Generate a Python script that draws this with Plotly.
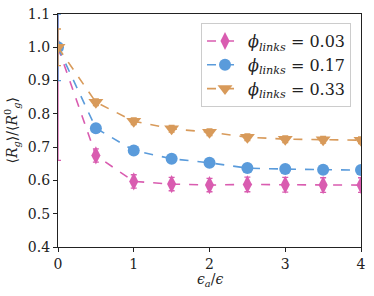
import plotly.graph_objects as go

x_vals = [0, 0.5, 1, 1.5, 2, 2.5, 3, 3.5, 4]

y_003 = [1.0, 0.675, 0.597, 0.589, 0.586, 0.588, 0.587, 0.586, 0.586]
e_003 = [0.34, 0.02, 0.02, 0.02, 0.02, 0.022, 0.022, 0.022, 0.022]

y_017 = [1.0, 0.757, 0.690, 0.665, 0.653, 0.637, 0.634, 0.632, 0.631]
e_017 = [0.10, 0.01, 0.01, 0.01, 0.01, 0.01, 0.01, 0.01, 0.01]

y_033 = [1.0, 0.835, 0.778, 0.755, 0.745, 0.730, 0.724, 0.722, 0.721]
e_033 = [0.055, 0.01, 0.01, 0.01, 0.01, 0.01, 0.01, 0.01, 0.01]

labels = ["0.03", "0.17", "0.33"]
x_ticks = [0, 1, 2, 3, 4]
y_ticks = [0.4, 0.5, 0.6, 0.7, 0.8, 0.9, 1.0, 1.1]

FONT = "'DejaVu Serif', 'Liberation Serif', serif"
series = [
    (y_003, e_003, labels[0], "#d95cb0", "diamond-tall", 13),
    (y_017, e_017, labels[1], "#5a9bdb", "circle", 12),
    (y_033, e_033, labels[2], "#d89a5a", "triangle-down", 13),
]

fig = go.Figure()
for ys, es, lab, col, sym, sz in series:
    fig.add_trace(go.Scatter(
        x=x_vals, y=ys,
        mode="lines+markers",
        name=f"<i>ϕ<sub>links</sub></i> = {lab}",
        line=dict(color=col, width=1.6, dash="dash"),
        marker=dict(color=col, symbol=sym, size=sz, line=dict(width=0)),
        error_y=dict(type="data", array=es, visible=True, color=col, thickness=1.3, width=3),
        cliponaxis=True,
    ))

fig.update_layout(
    width=374, height=296,
    margin=dict(l=58, r=13, t=14, b=49),
    paper_bgcolor="white", plot_bgcolor="white",
    font=dict(family=FONT, size=13, color="#222"),
    showlegend=True,
    legend=dict(
        x=0.472, y=0.961, xanchor="left", yanchor="top",
        bgcolor="white", bordercolor="#cccccc", borderwidth=1,
        font=dict(family=FONT, size=16, color="#222"),
        itemwidth=36, tracegroupgap=0,
    ),
    xaxis=dict(
        range=[0, 4], tickvals=x_ticks, ticktext=[str(t) for t in x_ticks],
        showgrid=False, zeroline=False, automargin=False,
        showline=True, linecolor="#222", linewidth=1.3, mirror=True,
        ticks="outside", ticklen=4, tickcolor="#222",
        tickfont=dict(size=14), ticklabeloverflow="allow",
    ),
    yaxis=dict(
        range=[0.4, 1.1], tickvals=y_ticks, ticktext=[f"{t:.1f}" for t in y_ticks],
        showgrid=False, zeroline=False, automargin=False,
        showline=True, linecolor="#222", linewidth=1.3, mirror=True,
        ticks="outside", ticklen=4, tickcolor="#222",
        tickfont=dict(size=14), ticklabeloverflow="allow",
    ),
    annotations=[
        dict(text="<i>ϵ<sub>a</sub></i>/<i>ϵ</i>", xref="paper", yref="paper",
             x=0.5, y=-0.142, xanchor="center", yanchor="middle",
             showarrow=False, font=dict(size=14)),
        dict(text="⟨<i>R<sub>g</sub></i>⟩/⟨<i>R</i><sup>0</sup><sub><i>g</i></sub>⟩",
             xref="paper", yref="paper", x=-0.152, y=0.5, textangle=-90,
             xanchor="center", yanchor="middle", showarrow=False, font=dict(size=14)),
    ],
)

fig.write_html("out.html", config={"displayModeBar": False},
               post_script="document.body.style.margin='0px';")
